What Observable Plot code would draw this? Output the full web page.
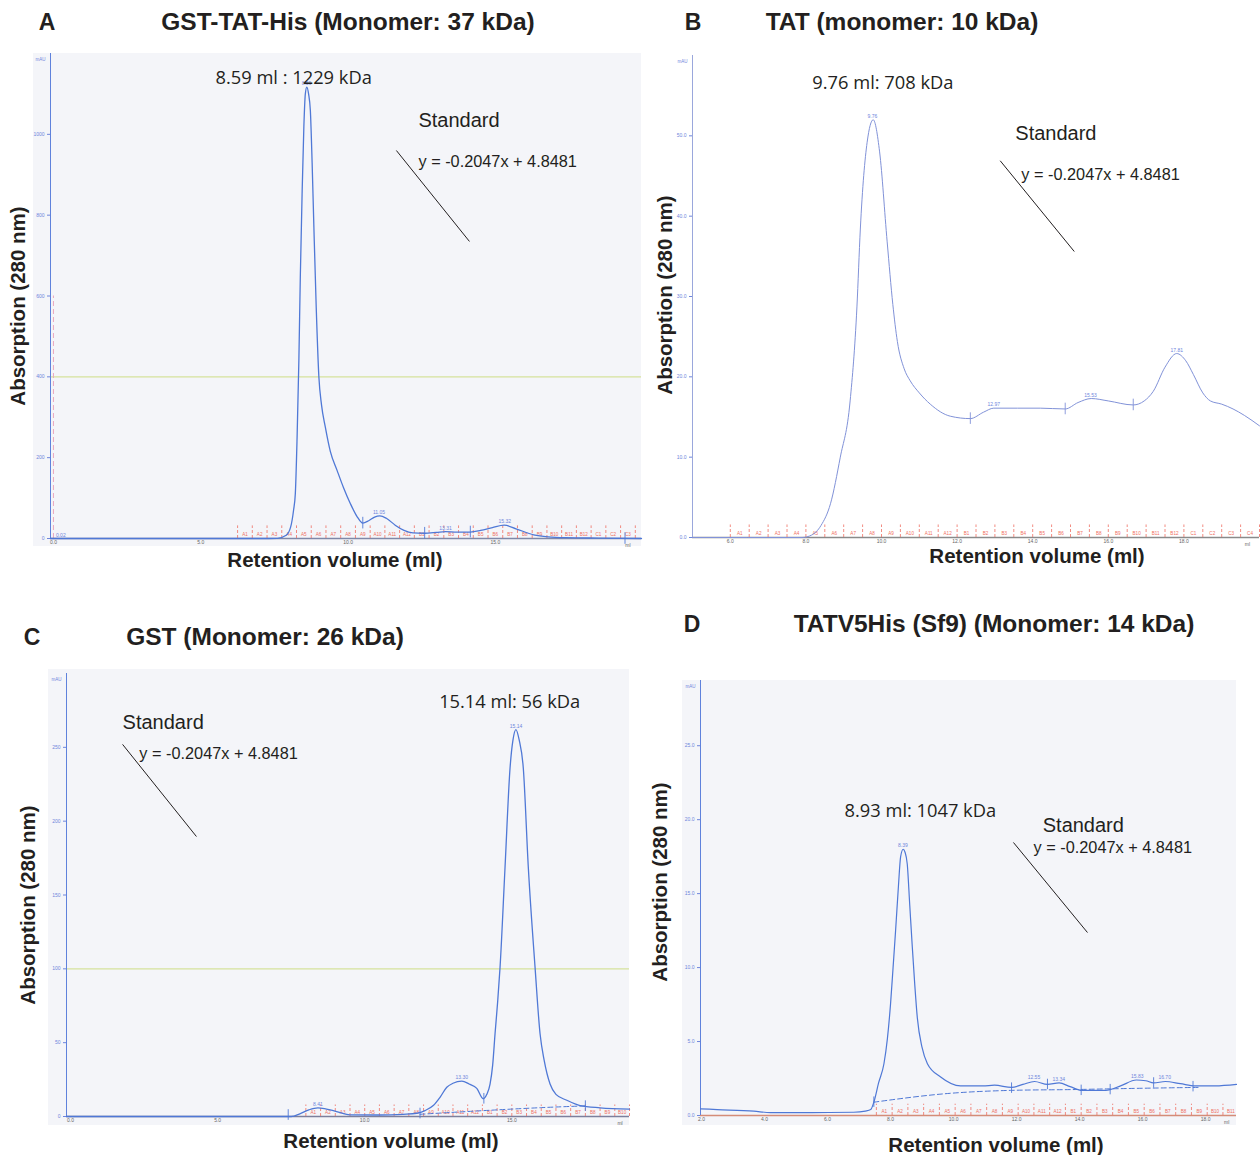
<!DOCTYPE html>
<html><head><meta charset="utf-8">
<script src="https://cdn.jsdelivr.net/npm/d3@7"></script>
<script src="https://cdn.jsdelivr.net/npm/@observablehq/plot@0.6"></script>
<style>
body{margin:0;background:#fff;}
#root{position:relative;width:1260px;height:1155px;overflow:hidden;font-family:"Liberation Sans",Arial,sans-serif;color:#231f20;}
.lbl{position:absolute;white-space:nowrap;transform:translate(-50%,-50%);font-weight:bold;line-height:1;}
.box{position:absolute;background:#f4f5f9;}
.panel{position:absolute;}
</style></head><body><div id="root"></div>
<script>
// ---------- DATA ----------
const panelLetters = ["A", "B", "C", "D"];
const panelTitles = ["GST-TAT-His (Monomer: 37 kDa)", "TAT (monomer: 10 kDa)", "GST (Monomer: 26 kDa)", "TATV5His (Sf9) (Monomer: 14 kDa)"];
const xAxisTitle = "Retention volume (ml)";
const yAxisTitle = "Absorption (280 nm)";
const yUnit = "mAU", xUnit = "ml";

// chromatogram traces [ml, mAU]
const curveA = [[-0.1,0],[4,0],[7.0,0],[7.6,0.5],[7.9,8],[8.05,28],[8.15,70],[8.21,111],[8.27,250],[8.33,440],[8.38,650],[8.44,853],[8.5,1020],[8.55,1100],[8.6,1117],[8.66,1100],[8.72,1059],[8.78,930],[8.84,770],[8.92,570],[9.01,399],[9.1,330],[9.23,275],[9.4,215],[9.63,168],[9.85,125],[10.08,86],[10.3,55],[10.5,38],[10.7,44],[10.9,53],[11.08,56],[11.3,50],[11.6,33],[11.9,20],[12.2,14],[12.6,13],[13.0,15],[13.31,17],[13.7,16],[14.15,16],[14.5,20],[14.9,27],[15.3,33],[15.7,24],[16.3,9],[16.8,4],[17.4,2],[18.5,1],[19.96,0]];
const curveB = [[5,0],[7.9,0],[8.15,0.3],[8.4,1.5],[8.65,4.2],[8.91,10],[9.17,17],[9.35,28.7],[9.44,38.4],[9.62,49.2],[9.78,52],[9.95,48],[10.15,36.8],[10.3,29],[10.42,24.4],[10.6,21],[10.76,19.5],[11.0,18],[11.29,16.6],[11.82,15.1],[12.35,14.8],[12.7,15.6],[12.97,16.1],[13.6,16.1],[14.2,16.1],[14.86,16.0],[15.2,16.8],[15.55,17.3],[16.0,17.0],[16.66,16.5],[16.95,17],[17.19,18.2],[17.5,21.2],[17.81,22.9],[18.05,22],[18.25,20.3],[18.5,18],[18.7,17],[19.0,16.6],[19.3,16.0],[19.6,15.2],[20.0,13.9]];
const curveC = [[-0.13,0],[7.5,0],[7.81,2],[8.1,4.5],[8.41,5.9],[8.7,5],[8.93,4],[9.5,1.1],[10.5,1],[11.3,1.5],[11.77,2.2],[12.05,4],[12.33,7.4],[12.56,13],[12.79,19.8],[13.0,22.5],[13.3,23.9],[13.55,22],[13.81,19],[14.03,12],[14.15,15],[14.26,22],[14.35,35],[14.43,56],[14.52,78],[14.6,101],[14.77,169],[14.94,236],[15.04,255],[15.14,262],[15.25,255],[15.39,236],[15.56,169],[15.79,101],[15.96,56],[16.1,38],[16.3,22],[16.5,15],[16.87,11],[17.32,7.4],[18.0,5.9],[19.0,5]];
const curveD = [[1.97,0.45],[2.5,0.4],[3.66,0.29],[4.19,0.2],[5.5,0.2],[6.83,0.22],[7.2,0.3],[7.37,0.4],[7.47,0.9],[7.62,2.2],[7.79,3.5],[7.9,5.2],[8.0,7.55],[8.08,10],[8.16,12.5],[8.25,15.5],[8.32,17.5],[8.4,18.0],[8.46,17.8],[8.53,17.0],[8.61,14.2],[8.69,11.4],[8.77,8.8],[8.85,6.6],[9.0,4.6],[9.17,3.5],[9.59,2.6],[10.22,2.0],[10.93,2.0],[11.3,2.05],[11.84,1.9],[12.2,2.1],[12.57,2.3],[12.98,2.1],[13.35,2.2],[13.7,1.95],[14.08,1.7],[14.83,1.7],[15.3,2.0],[15.8,2.4],[16.1,2.35],[16.35,2.2],[16.72,2.3],[17.2,2.15],[17.67,2.0],[18.3,2.0],[18.98,2.1]];

// integration baselines (dashed)
const baseC = [[11.88,1.5],[14.05,4],[16.0,6],[17.5,7.2]];
const baseD = [[7.47,0.9],[9.89,1.5],[11.84,1.7],[13.98,1.76],[14.9,1.8],[17.76,1.9]];

// peak labels [ml, mAU, label]
const peaksA = [[0.25,0,"0.02"],[8.59,1117,"8.59"],[11.05,56,"11.05"],[13.31,17,"13.31"],[15.32,33,"15.32"]];
const peaksB = [[9.76,52,"9.76"],[12.97,16.1,"12.97"],[15.53,17.3,"15.53"],[17.81,22.9,"17.81"]];
const peaksC = [[8.41,5.9,"8.41"],[13.30,23.9,"13.30"],[15.14,262,"15.14"]];
const peaksD = [[8.39,18.0,"8.39"],[12.55,2.3,"12.55"],[13.34,2.2,"13.34"],[15.83,2.4,"15.83"],[16.70,2.3,"16.70"]];

// peak boundary marks [ml, mAU]
const boundsA = [[10.5,38],[12.6,13],[14.15,16],[19.4,0]];
const boundsB = [[12.35,14.8],[14.86,16.0],[16.66,16.5]];
const boundsC = [[7.4,1],[11.88,2],[14.05,12],[17.5,7]];
const boundsD = [[7.47,0.9],[11.84,1.85],[12.98,2.1],[14.05,1.7],[14.97,1.75],[16.35,2.2],[17.6,1.95]];

// axes
const xDomains = [[-0.1,19.96],[5,20],[-0.136,19.0],[1.968,18.98]];
const yDomains = [[0,1200],[0,60],[0,300],[0,29.41]];
const xTicksA = [0,5,10,15], xTickLabelsA = ["0.0","5.0","10.0","15.0"];
const xTicksB = [6,8,10,12,14,16,18], xTickLabelsB = ["6.0","8.0","10.0","12.0","14.0","16.0","18.0"];
const xTicksC = [0,5,10,15], xTickLabelsC = ["0.0","5.0","10.0","15.0"];
const xTicksD = [2,4,6,8,10,12,14,16,18], xTickLabelsD = ["2.0","4.0","6.0","8.0","10.0","12.0","14.0","16.0","18.0"];
const yTicksA = [0,200,400,600,800,1000], yTickLabelsA = ["0","200","400","600","800","1000"];
const yTicksB = [0,10,20,30,40,50], yTickLabelsB = ["0.0","10.0","20.0","30.0","40.0","50.0"];
const yTicksC = [0,50,100,150,200,250], yTickLabelsC = ["0","50","100","150","200","250"];
const yTicksD = [0,5,10,15,20,25], yTickLabelsD = ["0.0","5.0","10.0","15.0","20.0","25.0"];
const mlPositions = [19.5, 19.68, 18.68, 18.67];

// reference (threshold) lines
const refLines = [400, null, 100, null];
// injection mark (panel A)
const injectionA = [{x:0.0, y1:0, y2:600}];

// fraction collection
const fracStarts = [6.25, 6.0, 8.0, 7.55];
const fracWidth = 0.5;
const fracNames = [..."ABC"].flatMap(r => d3.range(1,13).map(i => r + i));

// annotations
const peakNotes = [
  {x:5.5, y:1140, text:"8.59 ml : 1229 kDa"},
  {x:8.17, y:56.5, text:"9.76 ml: 708 kDa"},
  {x:12.53, y:280.3, text:"15.14 ml: 56 kDa"},
  {x:6.54, y:20.55, text:"8.93 ml: 1047 kDa"}
];
const standardNotes = [{x:12.39,y:1034},{x:13.54,y:50.3},{x:1.77,y:266.8},{x:12.83,y:19.6}];
const equationNotes = [{x:12.39,y:933},{x:13.7,y:45.2},{x:2.34,y:245.8},{x:12.54,y:18.1}];
const standardText = "Standard";
const equationText = "y = -0.2047x + 4.8481";
const standardLines = [
  {x1:11.64,y1:960,x2:14.12,y2:735},
  {x1:13.14,y1:46.9,x2:15.1,y2:35.6},
  {x1:1.77,y1:252,x2:4.28,y2:189.6},
  {x1:11.9,y1:18.46,x2:14.25,y2:12.37}
];

// ---------- LAYOUT / STYLE ----------
const root = document.getElementById("root");
function label(text, cx, cy, size, rotate) {
  const d = document.createElement("div");
  d.className = "lbl";
  d.textContent = text;
  d.style.left = cx + "px"; d.style.top = cy + "px"; d.style.fontSize = size + "px";
  if (rotate) d.style.transform = "translate(-50%,-50%) rotate(-90deg)";
  root.appendChild(d);
}
function box(l, t, w, h) {
  const d = document.createElement("div");
  d.className = "box";
  Object.assign(d.style, {left:l+"px", top:t+"px", width:w+"px", height:h+"px"});
  root.appendChild(d);
}

const BLUE = "#4f78d6";
const TICKBLUE = "#6f86dc";
const FRAC = "#ef6f62";

function drawPanel(cfg) {
  const [xmin, xmax] = cfg.xDomain, [ymin, ymax] = cfg.yDomain;
  const fr = [];
  for (let i = 0; ; i++) { const b = cfg.fracStart + fracWidth * i; if (b > xmax + 1e-9) break; fr.push(b); }
  const frLabels = fr.map((b, i) => ({x: b + fracWidth / 2, t: fracNames[i]})).filter(d => d.x < xmax);
  const fh = ymax * 0.026, bk = ymax * 0.012;
  const xMap = new Map(cfg.xTicks.map((t, i) => [t, cfg.xTickLabels[i]]));
  const yMap = new Map(cfg.yTicks.map((t, i) => [t, cfg.yTickLabels[i]]));
  const marks = [];
  if (cfg.ref != null) marks.push(Plot.ruleY([cfg.ref], {stroke: "#d6e29c", strokeWidth: 1.3}));
  if (cfg.injection) marks.push(Plot.ruleX(cfg.injection, {x: "x", y1: "y1", y2: "y2", stroke: "#e9a7bf", strokeWidth: 1, strokeDasharray: "5,3"}));
  marks.push(
    Plot.ruleY([0], {stroke: cfg.baseColor, strokeWidth: 1.6}),
    Plot.ruleX(fr, {x: d => d, y1: 0, y2: fh, stroke: FRAC, strokeWidth: 0.8, strokeDasharray: "3,2"}),
    Plot.text(frLabels, {x: "x", y: ymax * 0.009, text: "t", fontSize: 4.6, fill: FRAC, clip: true}),
    Plot.ruleX([xmin], {y1: 0, y2: ymax, stroke: cfg.axisColor, strokeWidth: 1}),
    Plot.axisY({ticks: cfg.yTicks, tickFormat: d => yMap.get(d), tickSize: 3, tickPadding: 3, fontSize: 5, color: TICKBLUE, label: null}),
    Plot.axisX({ticks: cfg.xTicks, tickFormat: d => xMap.get(d), tickSize: 0, tickPadding: 2, fontSize: 5, color: "#666", label: null}),
    Plot.text([xUnit], {x: cfg.mlX, y: 0, dy: 4.5, lineAnchor: "top", fontSize: 5, fill: "#666"}),
    Plot.text([yUnit], {frameAnchor: "top-left", textAnchor: "end", dx: -5, dy: 4, fontSize: 4.5, fill: TICKBLUE})
  );
  if (cfg.base) marks.push(Plot.line(cfg.base, {x: d => d[0], y: d => d[1], stroke: BLUE, strokeWidth: 1, strokeDasharray: "5,3", curve: "monotone-x"}));
  marks.push(
    Plot.line(cfg.curve, {x: d => d[0], y: d => d[1], stroke: cfg.curveColor, strokeWidth: cfg.curveWidth, curve: "monotone-x"}),
    Plot.ruleX(cfg.bounds, {x: d => d[0], y1: d => d[1] - bk, y2: d => d[1] + bk, stroke: cfg.curveColor, strokeWidth: 0.9}),
    Plot.text(cfg.peaks, {x: d => d[0], y: d => d[1], text: d => d[2], dy: -2, lineAnchor: "bottom", fontSize: 5, fill: TICKBLUE}),
    Plot.link([cfg.stdLine], {x1: "x1", y1: "y1", x2: "x2", y2: "y2", stroke: "#231f20", strokeWidth: 1}),
    Plot.text([cfg.std], {x: "x", y: "y", text: () => standardText, textAnchor: "start", lineAnchor: "middle", fontSize: 20, fontFamily: "Liberation Sans, Arial, sans-serif", fill: "#231f20"}),
    Plot.text([cfg.eq], {x: "x", y: "y", text: () => equationText, textAnchor: "start", lineAnchor: "middle", fontSize: 16.3, fontFamily: "Liberation Sans, Arial, sans-serif", fill: "#231f20"}),
    Plot.text([cfg.note], {x: "x", y: "y", text: "text", textAnchor: "start", lineAnchor: "middle", fontSize: 18.3, fontFamily: "Open Sans, Noto Sans, sans-serif", fill: "#231f20"})
  );
  const svg = Plot.plot({
    width: cfg.g.w, height: cfg.g.h,
    marginLeft: cfg.g.ml, marginRight: cfg.g.mr, marginTop: cfg.g.mt, marginBottom: cfg.g.mb,
    x: {domain: cfg.xDomain}, y: {domain: cfg.yDomain},
    style: {overflow: "visible", background: "transparent", fontFamily: "Liberation Sans, Arial, sans-serif"},
    marks
  });
  const wrap = document.createElement("div");
  wrap.className = "panel";
  wrap.style.left = cfg.g.l + "px"; wrap.style.top = cfg.g.t + "px";
  wrap.appendChild(svg);
  root.appendChild(wrap);
}

// grey plotting areas
box(33, 53, 608, 493);
box(48, 669, 581, 456);
box(682, 680, 554, 445);

drawPanel({curve: curveA, peaks: peaksA, bounds: boundsA, xDomain: xDomains[0], yDomain: yDomains[0],
  xTicks: xTicksA, xTickLabels: xTickLabelsA, yTicks: yTicksA, yTickLabels: yTickLabelsA, mlX: mlPositions[0],
  ref: refLines[0], injection: injectionA, fracStart: fracStarts[0], note: peakNotes[0], std: standardNotes[0], eq: equationNotes[0], stdLine: standardLines[0],
  baseColor: "#7f88a8", axisColor: "#5f82dc", curveColor: BLUE, curveWidth: 1.3,
  g: {l: 33, t: 53, w: 608, h: 493, ml: 17, mr: 0, mt: 0, mb: 8}});

drawPanel({curve: curveB, peaks: peaksB, bounds: boundsB, xDomain: xDomains[1], yDomain: yDomains[1],
  xTicks: xTicksB, xTickLabels: xTickLabelsB, yTicks: yTicksB, yTickLabels: yTickLabelsB, mlX: mlPositions[1],
  ref: refLines[1], fracStart: fracStarts[1], note: peakNotes[1], std: standardNotes[1], eq: equationNotes[1], stdLine: standardLines[1],
  baseColor: "#8a8a8a", axisColor: "#9aa7dc", curveColor: "#8192d8", curveWidth: 1,
  g: {l: 680, t: 45, w: 580, h: 510, ml: 12, mr: 1, mt: 10, mb: 18}});

drawPanel({curve: curveC, base: baseC, peaks: peaksC, bounds: boundsC, xDomain: xDomains[2], yDomain: yDomains[2],
  xTicks: xTicksC, xTickLabels: xTickLabelsC, yTicks: yTicksC, yTickLabels: yTickLabelsC, mlX: mlPositions[2],
  ref: refLines[2], fracStart: fracStarts[2], note: peakNotes[2], std: standardNotes[2], eq: equationNotes[2], stdLine: standardLines[2],
  baseColor: "#7c7f9c", axisColor: "#5f82dc", curveColor: BLUE, curveWidth: 1.3,
  g: {l: 48, t: 669, w: 581, h: 456, ml: 18, mr: 0, mt: 4, mb: 9}});

drawPanel({curve: curveD, base: baseD, peaks: peaksD, bounds: boundsD, xDomain: xDomains[3], yDomain: yDomains[3],
  xTicks: xTicksD, xTickLabels: xTickLabelsD, yTicks: yTicksD, yTickLabels: yTickLabelsD, mlX: mlPositions[3],
  ref: refLines[3], fracStart: fracStarts[3], note: peakNotes[3], std: standardNotes[3], eq: equationNotes[3], stdLine: standardLines[3],
  baseColor: "#d48c78", axisColor: "#5f82dc", curveColor: BLUE, curveWidth: 1.2,
  g: {l: 682, t: 680, w: 554, h: 445, ml: 18, mr: 0, mt: 0, mb: 10}});

// panel letters and titles
label(panelLetters[0], 47, 22, 23); label(panelTitles[0], 348, 22, 24.5);
label(panelLetters[1], 693, 22, 23); label(panelTitles[1], 902, 22, 24.5);
label(panelLetters[2], 32, 637, 23); label(panelTitles[2], 265, 637, 24.5);
label(panelLetters[3], 692, 624, 23); label(panelTitles[3], 994, 624, 24.5);

// axis titles
label(yAxisTitle, 18, 306, 20.5, true); label(xAxisTitle, 335, 560, 20.5);
label(yAxisTitle, 665, 295, 20.5, true); label(xAxisTitle, 1037, 556, 20.5);
label(yAxisTitle, 28, 905, 20.5, true); label(xAxisTitle, 391, 1141, 20.5);
label(yAxisTitle, 660, 882, 20.5, true); label(xAxisTitle, 996, 1145, 20.5);
</script></body></html>
